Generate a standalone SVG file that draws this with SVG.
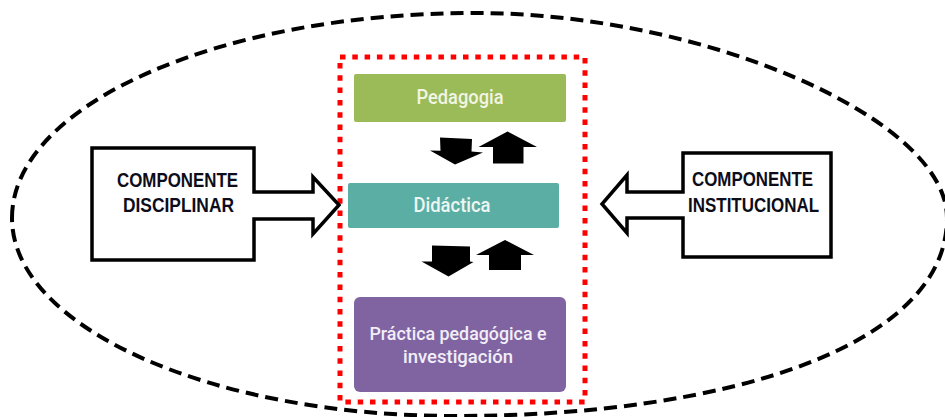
<svg xmlns="http://www.w3.org/2000/svg" width="945" height="417" viewBox="0 0 945 417">
  <defs>
    <style>
      .boundary { fill: none; stroke: #000; stroke-width: 4; stroke-dasharray: 13 7; }
      .frame { fill: none; stroke: #ff0000; stroke-width: 5; stroke-dasharray: 5.5 6.8; }
      .block { fill: #fff; stroke: #000; stroke-width: 3.5; stroke-linejoin: miter; }
      .comp { font-family: "Liberation Sans Narrow", "Liberation Sans", Arial, sans-serif; font-weight: bold; font-size: 19.5px; fill: #0d0d1a; text-anchor: middle; }
      .lbl { font-family: Roboto, "Liberation Sans", sans-serif; font-weight: 500; font-size: 20.5px; text-anchor: middle; }
      .lbl2 { font-family: Roboto, "Liberation Sans", sans-serif; font-weight: 500; font-size: 19px; text-anchor: middle; fill: #f1eef8; }
      .solid { fill: #000; stroke: none; }
    </style>
  </defs>
  <rect width="945" height="417" fill="#fff"/>

  <g id="boundary">
    <path class="boundary" d="M12,218 C12,105 219,13 475,13 C702,13 947,118 947,218 C947,345 730,416 455,416 C210,416 12,327 12,218 Z"/>
  </g>

  <g id="frame">
    <rect class="frame" x="340" y="57" width="245" height="345"/>
  </g>

  <g id="pedagogia">
    <rect x="354" y="74" width="212" height="48" rx="2" fill="#9bbb59"/>
    <text class="lbl" x="460" y="104" fill="#f2f4e4" textLength="87" lengthAdjust="spacingAndGlyphs">Pedagogia</text>
  </g>

  <g id="didactica">
    <rect x="348" y="183" width="211" height="45" rx="2" fill="#5baea4"/>
    <text class="lbl" x="452" y="212" fill="#eef6f2" textLength="77" lengthAdjust="spacingAndGlyphs">Didáctica</text>
  </g>

  <g id="practica">
    <rect x="354" y="297" width="212" height="95" rx="6" fill="#8064a2"/>
    <text class="lbl2" x="458" y="340" textLength="177" lengthAdjust="spacingAndGlyphs">Práctica pedagógica e</text>
    <text class="lbl2" x="458" y="363" textLength="110" lengthAdjust="spacingAndGlyphs">investigación</text>
  </g>

  <g id="componente-disciplinar">
    <path class="block" d="M92,148 L254,148 L254,192 L313,192 L313,177 L339,205 L313,234 L313,219 L254,219 L254,260 L92,260 Z"/>
    <text class="comp" x="177.5" y="187" textLength="121" lengthAdjust="spacingAndGlyphs">COMPONENTE</text>
    <text class="comp" x="178.5" y="212" textLength="111" lengthAdjust="spacingAndGlyphs">DISCIPLINAR</text>
  </g>

  <g id="componente-institucional">
    <path class="block" d="M831,153 L683,153 L683,192 L627,192 L627,175 L602,204 L627,233 L627,218 L683,218 L683,257 L831,257 Z"/>
    <text class="comp" x="752.5" y="186" textLength="121" lengthAdjust="spacingAndGlyphs">COMPONENTE</text>
    <text class="comp" x="753.5" y="212" textLength="131" lengthAdjust="spacingAndGlyphs">INSTITUCIONAL</text>
  </g>

  <g id="connectors">
    <polygon class="solid" points="440,137.5 472,139 471.5,151.5 483,152.5 455,164.5 430,150.5 440.5,150.8"/>
    <polygon class="solid" points="507.5,131.5 537,147 523.5,147 523.5,163.5 493,163.5 493,147 478.5,147"/>
    <polygon class="solid" points="432,245.5 470,246.5 470,261.5 473.5,262 448.5,276.5 421.5,261.5 432,261.5"/>
    <polygon class="solid" points="505,240 534,255 521,255 521,270 489,270 489,255 476,255"/>
  </g>
</svg>
